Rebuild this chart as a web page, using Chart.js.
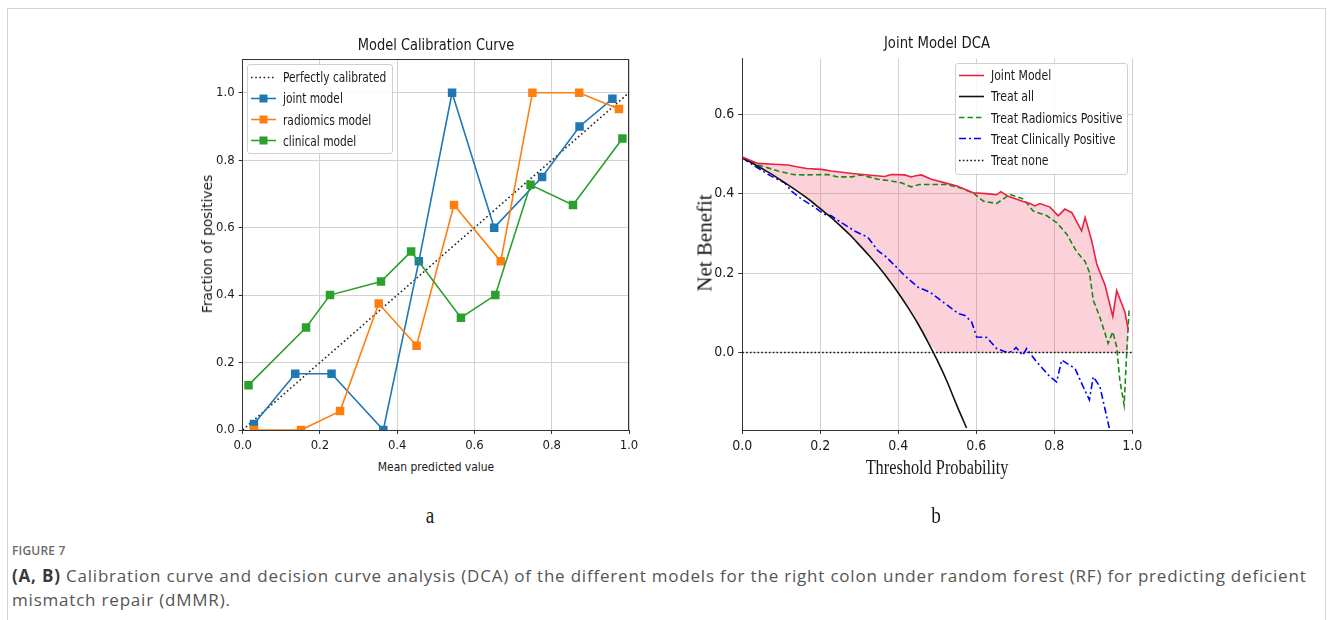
<!DOCTYPE html>
<html>
<head>
<meta charset="utf-8">
<script src="https://cdn.jsdelivr.net/npm/chart.js@4.4.0/dist/chart.umd.min.js"></script>
<style>
  body { margin: 0; background: #fff; width: 1333px; height: 620px; overflow: hidden; position: relative; font-family: "DejaVu Sans", sans-serif; }
  .frame { position: absolute; left: 7px; top: 8px; width: 1317px; height: 640px; border: 1px solid #d4d4d4; }
  .box { position: absolute; }
  .c { position: absolute; white-space: nowrap; transform: translate(-50%, -50%) scaleX(0.84); color: #1a1a1a; }
  .rot { position: absolute; white-space: nowrap; transform: translate(-50%, -50%) rotate(-90deg); color: #1a1a1a; }
  .legend { position: absolute; background: rgba(255,255,255,0.85); border: 1px solid #d0d0d0; border-radius: 3px; }
  .legend svg { position: absolute; left: 3px; }
  .legend span { position: absolute; white-space: nowrap; transform-origin: left center; color: #1a1a1a; }
  .serif { font-family: "Liberation Serif", "DejaVu Serif", serif; }
  .cap { position: absolute; left: 12px; white-space: nowrap; font-family: "Open Sans", sans-serif; color: #555; }
</style>
</head>
<body>
<div class="frame"></div>

<div class="box" style="left:200px;top:40px;width:450px;height:414px"><canvas id="calib" width="450" height="414"></canvas></div>
<div class="box" style="left:700px;top:40px;width:448px;height:416px"><canvas id="dca" width="448" height="416"></canvas></div>

<div class="c" style="left:436px;top:45px;font-size:15.5px">Model Calibration Curve</div>
<div class="c" style="left:436px;top:466px;font-size:12.8px">Mean predicted value</div>
<div class="rot" style="left:207px;top:244px;font-size:13.8px">Fraction of positives</div>

<div class="c" style="left:937px;top:42px;font-size:15.8px">Joint Model DCA</div>
<div class="c serif" style="left:937px;top:467px;font-size:20.4px;transform:translate(-50%,-50%) scaleX(0.8)">Threshold Probability</div>
<div class="rot serif" style="left:705px;top:243px;font-size:21px">Net Benefit</div>

<div class="legend" id="legCalib" style="left:247px;top:64px;width:144px;height:88px"></div>
<div class="legend" id="legDca" style="left:955px;top:63px;width:171px;height:110px"></div>

<div class="c serif" style="left:430px;top:515px;font-size:24px;transform:translate(-50%,-50%) scaleX(0.8)">a</div>
<div class="c serif" style="left:936px;top:515px;font-size:24px;transform:translate(-50%,-50%) scaleX(0.8)">b</div>

<div class="cap" style="top:542px;font-size:12px;font-weight:600;letter-spacing:0.2px;color:#6a6a6a">FIGURE 7</div>
<div class="cap" style="top:564px;font-size:17px;letter-spacing:0.8px"><b style="color:#3a3a3a">(A, B)</b> Calibration curve and decision curve analysis (DCA) of the different models for the right colon under random forest (RF) for predicting deficient</div>
<div class="cap" style="top:588px;font-size:17px;letter-spacing:0.8px">mismatch repair (dMMR).</div>

<script>
// calibration curve: mean predicted value vs fraction of positives
const jointX = [0.029, 0.136, 0.230, 0.364, 0.456, 0.542, 0.651, 0.775, 0.872, 0.957];
const jointY = [0.018, 0.167, 0.167, 0.0, 0.5, 1.0, 0.6, 0.75, 0.9, 0.982];
const radX = [0.029, 0.151, 0.252, 0.352, 0.450, 0.547, 0.668, 0.750, 0.871, 0.974];
const radY = [0.0, 0.0, 0.056, 0.375, 0.25, 0.667, 0.5, 1.0, 1.0, 0.952];
const clinX = [0.015, 0.164, 0.226, 0.358, 0.436, 0.565, 0.654, 0.745, 0.855, 0.983];
const clinY = [0.133, 0.304, 0.4, 0.44, 0.529, 0.333, 0.4, 0.727, 0.667, 0.864];
const perfectX = [0, 1];
const perfectY = [0, 1];
const calibTicks = [0, 0.2, 0.4, 0.6, 0.8, 1.0];

// decision curves: threshold probability vs net benefit
const dcaJointX = [0, 0.04, 0.08, 0.117, 0.143, 0.165, 0.203, 0.228, 0.26, 0.288, 0.33, 0.365, 0.382, 0.416, 0.433, 0.445, 0.459, 0.485, 0.52, 0.55, 0.592, 0.625, 0.652, 0.663, 0.68, 0.72, 0.738, 0.75, 0.763, 0.789, 0.81, 0.827, 0.845, 0.87, 0.879, 0.896, 0.909, 0.93, 0.95, 0.96, 0.981, 0.99];
const dcaJointY = [0.492, 0.476, 0.474, 0.472, 0.467, 0.463, 0.461, 0.457, 0.453, 0.45, 0.446, 0.443, 0.448, 0.447, 0.442, 0.445, 0.447, 0.436, 0.427, 0.419, 0.402, 0.4, 0.397, 0.405, 0.394, 0.38, 0.375, 0.369, 0.375, 0.366, 0.344, 0.361, 0.352, 0.306, 0.34, 0.281, 0.222, 0.17, 0.091, 0.156, 0.102, 0.056];
const dcaRadX = [0, 0.04, 0.092, 0.13, 0.16, 0.22, 0.245, 0.28, 0.305, 0.348, 0.374, 0.408, 0.433, 0.455, 0.485, 0.524, 0.56, 0.592, 0.618, 0.652, 0.686, 0.721, 0.746, 0.781, 0.806, 0.832, 0.857, 0.879, 0.89, 0.9, 0.917, 0.938, 0.95, 0.96, 0.968, 0.979, 0.986, 0.992];
const dcaRadY = [0.49, 0.472, 0.457, 0.448, 0.447, 0.448, 0.442, 0.442, 0.447, 0.436, 0.433, 0.427, 0.417, 0.423, 0.423, 0.423, 0.414, 0.402, 0.381, 0.375, 0.398, 0.386, 0.356, 0.344, 0.327, 0.298, 0.254, 0.229, 0.202, 0.131, 0.089, 0.023, 0.052, 0.014, -0.069, -0.132, 0.006, 0.11];
const dcaClinX = [0, 0.032, 0.074, 0.109, 0.126, 0.147, 0.186, 0.211, 0.228, 0.254, 0.288, 0.322, 0.348, 0.365, 0.391, 0.416, 0.451, 0.481, 0.515, 0.554, 0.571, 0.588, 0.601, 0.627, 0.652, 0.674, 0.691, 0.702, 0.719, 0.729, 0.755, 0.789, 0.806, 0.819, 0.853, 0.874, 0.89, 0.9, 0.917, 0.943];
const dcaClinY = [0.49, 0.469, 0.444, 0.427, 0.406, 0.39, 0.365, 0.348, 0.344, 0.327, 0.306, 0.29, 0.256, 0.244, 0.219, 0.194, 0.164, 0.152, 0.127, 0.098, 0.093, 0.077, 0.039, 0.038, 0.01, 0.002, 0.002, 0.013, -0.007, 0.01, -0.024, -0.061, -0.074, -0.019, -0.04, -0.086, -0.119, -0.061, -0.086, -0.199];
const treatAllX = [0, 0.025, 0.05, 0.075, 0.1, 0.125, 0.15, 0.175, 0.2, 0.225, 0.25, 0.275, 0.3, 0.325, 0.35, 0.375, 0.4, 0.425, 0.45, 0.475, 0.5, 0.525, 0.55, 0.575];
const treatAllY = [0.49, 0.477, 0.463, 0.449, 0.433, 0.417, 0.4, 0.382, 0.362, 0.342, 0.32, 0.297, 0.271, 0.244, 0.215, 0.184, 0.15, 0.113, 0.073, 0.028, -0.02, -0.073, -0.133, -0.19];
const treatNoneX = [0, 1];
const treatNoneY = [0, 0];
const dcaXTicks = [0, 0.2, 0.4, 0.6, 0.8, 1.0];
const dcaYTicks = [0, 0.2, 0.4, 0.6];

const pts = (xs, ys) => xs.map((x, i) => ({x: x, y: ys[i]}));
const tickFamily = '"DejaVu Sans Condensed", "DejaVu Sans", sans-serif';
const gridColor = '#d2d2d2';

// shaded band sits between the joint model and whichever of treat all / treat none is higher
const shadeFloor = pts(treatAllX, treatAllY).map(p => ({x: p.x, y: Math.max(p.y, treatNoneY[0])}));
shadeFloor.push({x: treatNoneX[1], y: treatNoneY[1]});

// draws the dark spines the axes don't draw themselves
const spines = {
  id: 'spines',
  afterDatasetsDraw(chart, args, opts) {
    const {ctx, chartArea: a} = chart;
    ctx.save();
    ctx.strokeStyle = '#333';
    ctx.lineWidth = 1;
    ctx.beginPath();
    if (opts.top) { ctx.moveTo(a.left, a.top + 0.5); ctx.lineTo(a.right, a.top + 0.5); }
    if (opts.right) { ctx.moveTo(a.right - 0.5, a.top); ctx.lineTo(a.right - 0.5, a.bottom); }
    ctx.stroke();
    ctx.restore();
  }
};

function axis(min, max, ticks, size, fontSize, tickLen, pad) {
  return {
    type: 'linear', min: min, max: max,
    afterBuildTicks: s => { s.ticks = ticks.map(v => ({value: v})); },
    afterFit: s => { if (s.isHorizontal()) s.height = size; else s.width = size; },
    ticks: { callback: v => v.toFixed(1), color: '#1a1a1a', font: {family: tickFamily, size: fontSize}, padding: pad, autoSkip: false, maxRotation: 0 },
    grid: { color: gridColor, lineWidth: 1, tickLength: tickLen, tickColor: '#333' },
    border: { color: '#333', width: 1 }
  };
}

function series(label, xs, ys, color, order) {
  return {
    label: label, data: pts(xs, ys), borderColor: color, backgroundColor: color,
    borderWidth: 1.6, pointStyle: 'rect', pointRadius: 6, pointHoverRadius: 6,
    pointBorderWidth: 0, order: order, clip: 0
  };
}

new Chart(document.getElementById('calib'), {
  type: 'line',
  data: {
    datasets: [
      { label: 'Perfectly calibrated', data: pts(perfectX, perfectY), borderColor: '#222', borderWidth: 1.6, borderDash: [1.6, 2.6], pointRadius: 0, order: 3, clip: 0 },
      series('joint model', jointX, jointY, '#1f77b4', 2),
      series('radiomics model', radX, radY, '#ff7f0e', 1),
      series('clinical model', clinX, clinY, '#2ca02c', 0)
    ]
  },
  options: {
    responsive: false, animation: false,
    layout: { padding: {top: 19, right: 21, left: 0, bottom: 0} },
    scales: {
      x: axis(0, 1, calibTicks, 24, 13, 4, 4),
      y: axis(0, 1.1, calibTicks, 42.7, 13, 4, 4)
    },
    plugins: { legend: {display: false}, tooltip: {enabled: false}, spines: {top: true, right: true} }
  },
  plugins: [spines]
});

new Chart(document.getElementById('dca'), {
  type: 'line',
  data: {
    datasets: [
      { label: 'Joint Model', data: pts(dcaJointX, dcaJointY), borderColor: '#e8223f', borderWidth: 1.6, pointRadius: 0, clip: 0,
        fill: {target: 5}, backgroundColor: 'rgba(238,50,85,0.22)' },
      { label: 'Treat all', data: pts(treatAllX, treatAllY), borderColor: '#111', borderWidth: 1.6, pointRadius: 0, clip: 0, cubicInterpolationMode: 'monotone' },
      { label: 'Treat Radiomics Positive', data: pts(dcaRadX, dcaRadY), borderColor: '#168a16', borderWidth: 1.6, borderDash: [5.5, 3], pointRadius: 0, clip: 0 },
      { label: 'Treat Clinically Positive', data: pts(dcaClinX, dcaClinY), borderColor: '#0000ff', borderWidth: 1.6, borderDash: [7, 3, 2, 3], pointRadius: 0, clip: 0 },
      { label: 'Treat none', data: pts(treatNoneX, treatNoneY), borderColor: '#111', borderWidth: 1.6, borderDash: [1.6, 2.2], pointRadius: 0, clip: 0 },
      { label: 'floor', data: shadeFloor, borderColor: 'rgba(0,0,0,0)', borderWidth: 0, pointRadius: 0, clip: 0 }
    ]
  },
  options: {
    responsive: false, animation: false,
    layout: { padding: {top: 18.5, right: 15.7, left: 0, bottom: 0} },
    scales: {
      x: axis(0, 1, dcaXTicks, 26, 14, 4, 4),
      y: axis(-0.195, 0.74, dcaYTicks, 42.3, 14, 4, 4)
    },
    plugins: { legend: {display: false}, tooltip: {enabled: false}, filler: {drawTime: 'beforeDatasetsDraw'} }
  }
});

// legends drawn inside the plot areas
function legend(id, items, top0, step, size) {
  const box = document.getElementById(id);
  items.forEach((it, i) => {
    const y = top0 + i * step;
    const dash = it.dash ? ` stroke-dasharray="${it.dash}"` : '';
    const mark = it.marker ? `<rect x="8.5" y="3.5" width="8" height="8" fill="${it.color}"/>` : '';
    box.insertAdjacentHTML('beforeend',
      `<svg width="26" height="15" style="top:${y - 7.5}px"><line x1="0" y1="7.5" x2="25" y2="7.5" stroke="${it.color}" stroke-width="1.6"${dash}/>${mark}</svg>` +
      `<span style="left:35px;top:${y}px;font-size:${size}px;transform:translateY(-50%) scaleX(0.8)">${it.label}</span>`);
  });
}

legend('legCalib', [
  {label: 'Perfectly calibrated', color: '#222', dash: '1.6 2.6'},
  {label: 'joint model', color: '#1f77b4', marker: true},
  {label: 'radiomics model', color: '#ff7f0e', marker: true},
  {label: 'clinical model', color: '#2ca02c', marker: true}
], 12, 21.3, 13.3);

legend('legDca', [
  {label: 'Joint Model', color: '#e8223f'},
  {label: 'Treat all', color: '#111'},
  {label: 'Treat Radiomics Positive', color: '#168a16', dash: '5.5 3'},
  {label: 'Treat Clinically Positive', color: '#0000ff', dash: '7 3 2 3'},
  {label: 'Treat none', color: '#111', dash: '1.6 2.2'}
], 11, 21.3, 13.6);
</script>
</body>
</html>
